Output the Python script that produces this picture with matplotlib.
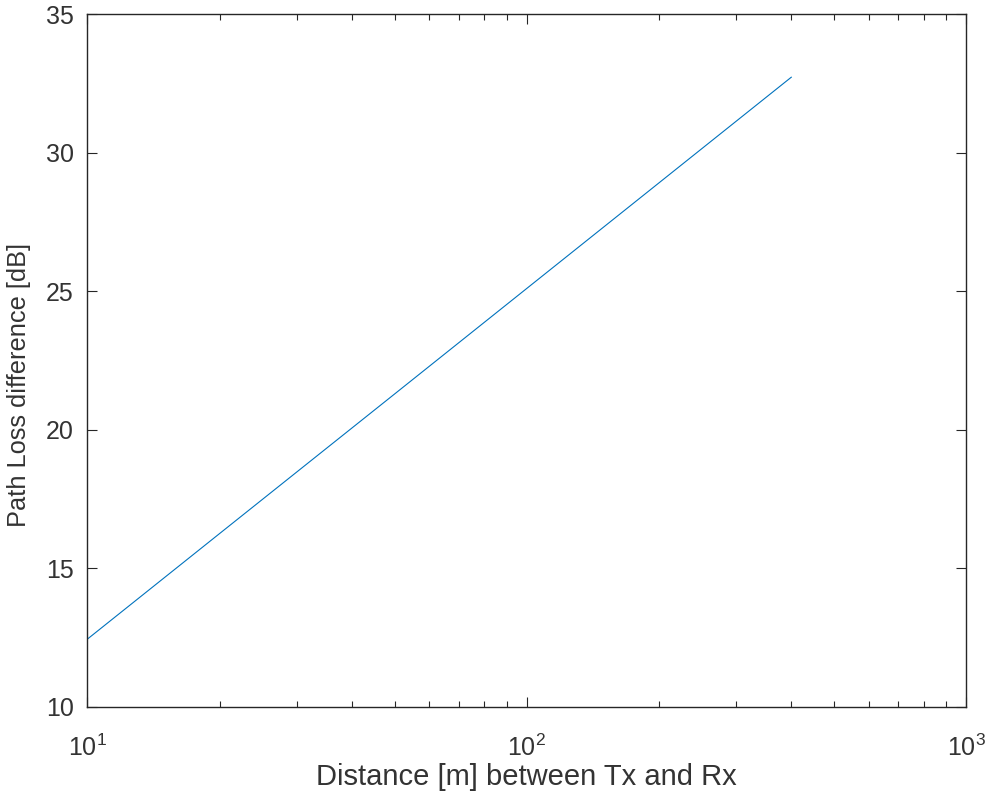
import matplotlib
matplotlib.use('Agg')
import matplotlib.pyplot as plt

# distance [m] and path loss difference [dB]
distance = [10, 20, 50, 100, 200, 400]
pl_diff = [12.45, 16.26, 21.29, 25.10, 28.91, 32.72]

plt.rcParams['font.family'] = ['Liberation Sans', 'DejaVu Sans']
plt.rcParams['mathtext.fontset'] = 'custom'
plt.rcParams['mathtext.rm'] = 'Liberation Sans'
dark = '#262626'
txt = '#333333'

fig = plt.figure(figsize=(9.85, 8.02), dpi=100)
ax = fig.add_axes([0.0888, 0.1185, 0.892, 0.864])

ax.semilogx(distance, pl_diff, color='#0072BD', linewidth=0.8)

ax.set_xlim(10, 1000)
ax.set_ylim(10, 35)
ax.set_yticks([10, 15, 20, 25, 30, 35])

ax.tick_params(which='both', direction='in', top=True, right=True,
               colors=dark, labelcolor=txt, labelsize=18, width=0.8)
ax.tick_params(which='major', length=7)
ax.tick_params(which='minor', length=4)
ax.tick_params(axis='x', which='major', pad=20)
ax.tick_params(axis='y', which='major', pad=10)
for s in ax.spines.values():
    s.set_color(dark)
    s.set_linewidth(1.0)

ax.set_xlabel('Distance [m] between Tx and Rx', fontsize=21, color=txt, labelpad=1)
ax.set_ylabel('Path Loss difference [dB]', fontsize=18.3, color=txt)
ax.yaxis.set_label_coords(-0.064, 0.465)

fig.savefig('out.png', dpi=100)
